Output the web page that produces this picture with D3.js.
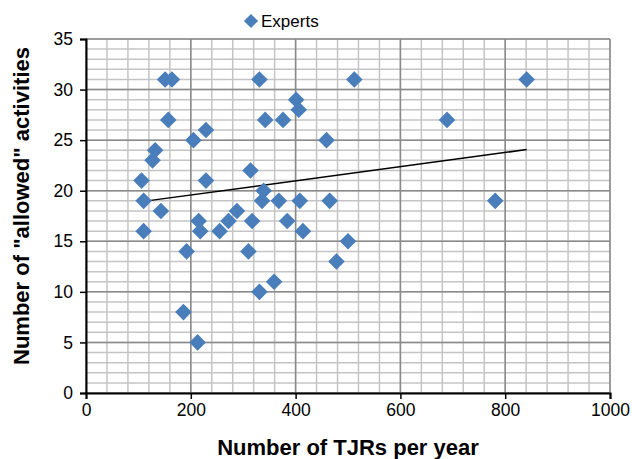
<!DOCTYPE html>
<html>
<head>
<meta charset="utf-8">
<script src="https://cdn.jsdelivr.net/npm/d3@7"></script>
<style>
  body { margin: 0; background: #fff; }
  text { font-family: "Liberation Sans", Arial, sans-serif; }
</style>
</head>
<body>
<svg id="chart" width="632" height="459"></svg>
<script>
// Données
const seriesName = "Experts";
const tjrs = [151, 164, 331, 512, 841, 401, 406, 157, 342, 376, 689, 229, 205, 459, 132,
  127, 314, 106, 229, 339, 110, 336, 368, 408, 465, 781, 143, 288, 215, 272,
  317, 384, 110, 218, 255, 414, 500, 192, 310, 478, 359, 331, 186, 213];
const allowed = [31, 31, 31, 31, 31, 29, 28, 27, 27, 27, 27, 26, 25, 25, 24,
  23, 22, 21, 21, 20, 19, 19, 19, 19, 19, 19, 18, 18, 17, 17,
  17, 17, 16, 16, 16, 16, 15, 14, 14, 13, 11, 10, 8, 5];
const xTicks = [0, 200, 400, 600, 800, 1000];
const yTicks = [0, 5, 10, 15, 20, 25, 30, 35];
const xMinor = d3.range(0, 1001, 40);
const yMinor = d3.range(0, 36, 1);

const data = tjrs.map((d, i) => ({ x: d, y: allowed[i] }));

//---------------------------------------------------------------------------------------

// Canevas
const svg = d3.select("#chart");
const plot = { left: 86, right: 610, top: 39, bottom: 393 };

const scaleX = d3.scaleLinear().domain([0, 1000]).range([plot.left, plot.right]);
const scaleY = d3.scaleLinear().domain([0, 35]).range([plot.bottom, plot.top]);

//---------------------------------------------------------------------------------------

// Grille (mineure puis majeure)
const grid = svg.append("g");

grid.append("g")
  .selectAll("line")
  .data(xMinor)
  .join("line")
  .attr("x1", d => scaleX(d)).attr("x2", d => scaleX(d))
  .attr("y1", plot.top).attr("y2", plot.bottom)
  .attr("stroke", "#c4c4c4").attr("stroke-width", 1.5);

grid.append("g")
  .selectAll("line")
  .data(yMinor)
  .join("line")
  .attr("x1", plot.left).attr("x2", plot.right)
  .attr("y1", d => scaleY(d)).attr("y2", d => scaleY(d))
  .attr("stroke", "#c4c4c4").attr("stroke-width", 1.5);

grid.append("g")
  .selectAll("line")
  .data(xTicks)
  .join("line")
  .attr("x1", d => scaleX(d)).attr("x2", d => scaleX(d))
  .attr("y1", plot.top).attr("y2", plot.bottom)
  .attr("stroke", "#8a8a8a").attr("stroke-width", 1.5);

grid.append("g")
  .selectAll("line")
  .data(yTicks)
  .join("line")
  .attr("x1", plot.left).attr("x2", plot.right)
  .attr("y1", d => scaleY(d)).attr("y2", d => scaleY(d))
  .attr("stroke", "#8a8a8a").attr("stroke-width", 1.5);

//---------------------------------------------------------------------------------------

// Axes
svg.append("g")
  .attr("transform", `translate(0, ${plot.bottom})`)
  .call(d3.axisBottom(scaleX).tickValues(xTicks).tickFormat(d3.format("d")).tickSizeOuter(0).tickSize(6).tickPadding(5))
  .call(g => g.select(".domain").attr("stroke", "#000").attr("stroke-width", 2))
  .call(g => g.selectAll(".tick line").attr("stroke", "#000").attr("stroke-width", 1.5))
  .selectAll("text")
  .attr("font-size", "17.5px")
  .attr("fill", "#000")
  .style("font-family", "'Liberation Sans', Arial, sans-serif");

svg.append("g")
  .attr("transform", `translate(${plot.left}, 0)`)
  .call(d3.axisLeft(scaleY).tickValues(yTicks).tickSizeOuter(0).tickSize(6).tickPadding(7))
  .call(g => g.select(".domain").attr("stroke", "#000").attr("stroke-width", 2))
  .call(g => g.selectAll(".tick line").attr("stroke", "#000").attr("stroke-width", 1.5))
  .selectAll("text")
  .attr("font-size", "17.5px")
  .attr("fill", "#000")
  .style("font-family", "'Liberation Sans', Arial, sans-serif");

// Titres des axes
svg.append("text")
  .attr("x", 348)
  .attr("y", 455)
  .attr("text-anchor", "middle")
  .attr("font-size", "22px")
  .attr("font-weight", "bold")
  .text("Number of TJRs per year");

svg.append("text")
  .attr("transform", `translate(29, 206) rotate(-90)`)
  .attr("text-anchor", "middle")
  .attr("font-size", "22px")
  .attr("font-weight", "bold")
  .text('Number of "allowed" activities');

//---------------------------------------------------------------------------------------

// Courbe de tendance (moindres carrés)
const mx = d3.mean(data, d => d.x);
const my = d3.mean(data, d => d.y);
const slope = d3.sum(data, d => (d.x - mx) * (d.y - my)) / d3.sum(data, d => (d.x - mx) ** 2);
const intercept = my - slope * mx;
const xExt = d3.extent(data, d => d.x);

svg.append("path")
  .attr("d", d3.line()
    .x(d => scaleX(d))
    .y(d => scaleY(intercept + slope * d))(xExt))
  .attr("fill", "none")
  .attr("stroke", "#000")
  .attr("stroke-width", 1.5);

//---------------------------------------------------------------------------------------

// Nuage de points (losanges)
const diamond = d3.symbol(d3.symbolSquare, 138);

svg.append("g")
  .selectAll("path")
  .data(data)
  .join("path")
  .attr("d", diamond)
  .attr("transform", d => `translate(${scaleX(d.x)}, ${scaleY(d.y)}) rotate(45)`)
  .attr("fill", "#4a7ebb");

//---------------------------------------------------------------------------------------

// Légende
const legend = svg.append("g").attr("transform", "translate(251, 21)");
legend.append("path")
  .attr("d", d3.symbol(d3.symbolSquare, 100)())
  .attr("transform", "rotate(45)")
  .attr("fill", "#4a7ebb");
legend.append("text")
  .attr("x", 10)
  .attr("y", 6)
  .attr("font-size", "17px")
  .text(seriesName);
</script>
</body>
</html>
